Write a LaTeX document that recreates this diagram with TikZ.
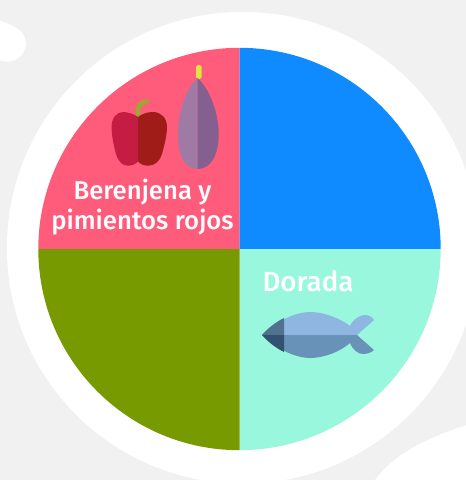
\documentclass[tikz,border=0pt]{standalone}
\usepackage{fontspec}
\setmainfont{Fira Sans}[UprightFont=* Medium]
\definecolor{bgc}{HTML}{F1F1F1}
\definecolor{rosec}{HTML}{FF5C7C}
\definecolor{bluec}{HTML}{0F8AFF}
\definecolor{greenc}{HTML}{769A00}
\definecolor{mintc}{HTML}{99F7DD}
\tikzset{x=1pt,y=-1pt,
 pielabel/.style={text=white,font=\fontsize{25.7}{30}\selectfont,align=center,inner sep=0pt}}
\begin{document}
\begin{tikzpicture}
\useasboundingbox (0,0) rectangle (466,480);
\clip (0,0) rectangle (466,480);
\fill[bgc] (0,0) rectangle (466,480);
\fill[white] (242.8,247.8) circle[radius=235.9];
\fill[white] (0,20.5) .. controls (5,22.5) and (9,24) .. (13,26) .. controls (21,30) and (26,36) .. (26,43) .. controls (26,54) and (17,61.7) .. (7,61.7) .. controls (4,61.7) and (2,61) .. (0,60.5) -- cycle;
\fill[white] (375,480) .. controls (392,456) and (425,438) .. (466,425.5) -- (466,480) -- cycle;
\def\R{201.2}
\coordinate (c) at (239.5,249);
\fill[rosec] (c) -- (38.3,249) arc[start angle=180,end angle=90,x radius=\R,y radius=-\R] -- cycle;
\fill[bluec] (c) -- (239.5,47.8) arc[start angle=90,end angle=0,x radius=\R,y radius=-\R] -- cycle;
\fill[mintc] (c) -- (440.7,249) arc[start angle=0,end angle=-90,x radius=\R,y radius=-\R] -- cycle;
\fill[greenc] (c) -- (239.5,450.2) arc[start angle=-90,end angle=-180,x radius=\R,y radius=-\R] -- cycle;
% pepper
\draw[color={rgb,255:red,154;green,170;blue,44},line width=4.4pt,line cap=round] (138,116) .. controls (137,106) and (140,102.5) .. (147,101.5);
\fill[color={rgb,255:red,196;green,28;blue,66}] (138,117) .. controls (134,114) and (128,112) .. (123,112) .. controls (116,112) and (111.5,119) .. (111.5,127) .. controls (111.5,135) and (114,147) .. (116,154) .. controls (118,161) and (122,165.7) .. (128,165.7) .. controls (132,165.7) and (136,164) .. (138,161.5) -- cycle;
\fill[color={rgb,255:red,160;green,28;blue,24}] (138,117) .. controls (142,114) and (147,112) .. (153,112) .. controls (161,112) and (167,118) .. (167,127) .. controls (167,135) and (164,147) .. (162,154) .. controls (160,161) and (155,165.7) .. (148,165.7) .. controls (144,165.7) and (140,164) .. (138,161.5) -- cycle;
% eggplant
\fill[color={rgb,255:red,224;green,228;blue,60},rounded corners=1.8pt] (196,65) rectangle (201.7,79);
\fill[color={rgb,255:red,158;green,122;blue,165}] (197.5,78) .. controls (186,88) and (178,112) .. (178,134) .. controls (178,155) and (184,169) .. (197.5,169) -- cycle;
\fill[color={rgb,255:red,133;green,95;blue,143}] (197.5,78) .. controls (209,88) and (218.7,112) .. (218.7,134) .. controls (218.7,155) and (211,169) .. (197.5,169) -- cycle;
% fish
\fill[color={rgb,255:red,143;green,182;blue,224}] (262,335) .. controls (275,322) and (295,312) .. (310,312) .. controls (325,312) and (341,319) .. (350,326) .. controls (353,319) and (360,315) .. (365,315) .. controls (369,315) and (372,317) .. (374,320) -- (357,335) -- cycle;
\fill[color={rgb,255:red,105;green,146;blue,184}] (262,335) .. controls (275,348) and (295,358) .. (310,358) .. controls (325,358) and (341,351) .. (350,343) .. controls (353,350) and (358,354) .. (363,354) .. controls (368,354) and (372,352) .. (374,350) -- (357,335) -- cycle;
\fill[color={rgb,255:red,80;green,114;blue,144}] (262,335) .. controls (268,328) and (276,322) .. (284,318) -- (284,335) -- cycle;
\fill[color={rgb,255:red,50;green,82;blue,112}] (262,335) .. controls (268,342) and (276,348) .. (284,352) -- (284,335) -- cycle;
\node[pielabel] (a) at (142.5,207) {Berenjena y\\pimientos rojos};
\node[pielabel,font=\fontsize{27.7}{30}\selectfont] (b) at (308,281) {Dorada};
\end{tikzpicture}
\end{document}
